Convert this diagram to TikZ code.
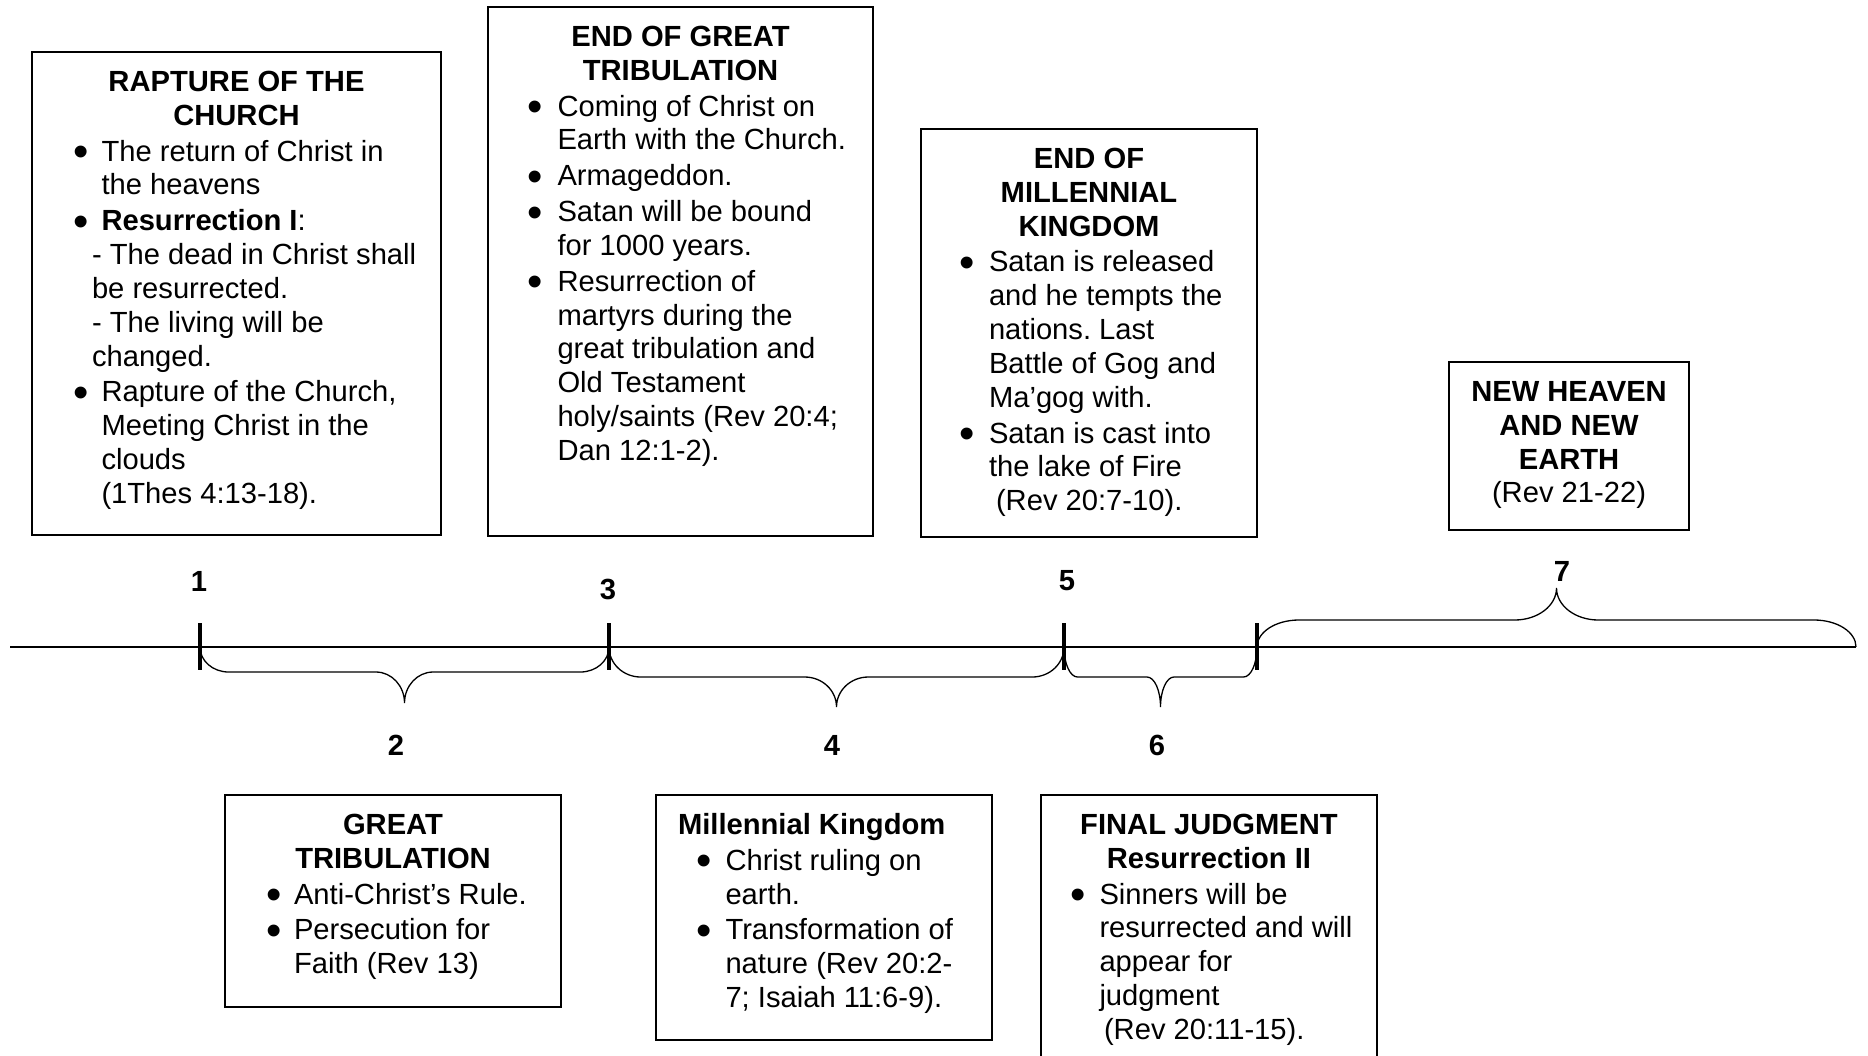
\documentclass[tikz,border=0pt]{standalone}
\usepackage{graphicx}
\usepackage{fontspec}
\setmainfont{Liberation Sans}
\usetikzlibrary{calc}
\frenchspacing

\newlength\px
\setlength\px{0.02cm}
\newcommand\mybullet{\raisebox{-5.6\px}{\scalebox{1.5}{\textbullet}}}
% bullet line: #1 bullet centre, #2 text indent (px from the box edge)
\newcommand\bitem[3]{\par\vspace{2\px}\leftskip=#2\px\noindent\llap{\mybullet\hspace*{\dimexpr#2\px-#1\px-7.7\px\relax}}#3\par}
\newcommand\sitem[2]{\par\leftskip=#1\px\noindent #2\par}
\newcommand\heading[1]{{\centering\bfseries\strut #1\par}}

\begin{document}
\begin{tikzpicture}[x=0.02cm,y=-0.02cm,
  every node/.style={font=\fontsize{16.6}{19.25}\selectfont},
  panel/.style={draw,line width=0.04cm,inner xsep=0pt,inner ysep=0.316cm,outer sep=0pt,anchor=north west},
  num/.style={font=\fontsize{16.6}{19.25}\selectfont\bfseries},
  timeline/.style={line width=0.036cm},
  tick/.style={line width=0.09cm},
  span/.style={line width=0.026cm},
  period/.style n args={3}{to path={
    .. controls ($(\tikztostart)+(0,{0.55*(#1)})$) and ($(\tikztostart)!0.031!(\tikztotarget)+(0,#1)$)
    .. ($(\tikztostart)!0.07!(\tikztotarget)+(0,#1)$)
    -- ($(\tikztostart)!0.43!(\tikztotarget)+(0,#1)$)
    .. controls ($(\tikztostart)!0.469!(\tikztotarget)+(0,#1)$) and ($(\tikztostart)!0.5!(\tikztotarget)+(0,#2)$)
    .. ($(\tikztostart)!0.5!(\tikztotarget)+(0,#3)$)
    .. controls ($(\tikztostart)!0.5!(\tikztotarget)+(0,#2)$) and ($(\tikztostart)!0.531!(\tikztotarget)+(0,#1)$)
    .. ($(\tikztostart)!0.57!(\tikztotarget)+(0,#1)$)
    -- ($(\tikztostart)!0.93!(\tikztotarget)+(0,#1)$)
    .. controls ($(\tikztostart)!0.969!(\tikztotarget)+(0,#1)$) and ($(\tikztotarget)+(0,{0.55*(#1)})$)
    .. (\tikztotarget)}}]

\useasboundingbox (0,0) rectangle (1868,1055);

% events above the line
\node[panel] (rapture) at (32,52) {\parbox[t][451\px][t]{409\px}{%
  \heading{RAPTURE OF THE\\CHURCH}
  \bitem{49}{69.5}{The return of Christ in\\the heavens}
  \bitem{49}{69.5}{\textbf{Resurrection I}:}
  \sitem{60}{- The dead in Christ shall\\be resurrected.}
  \sitem{60}{- The living will be\\changed.}
  \bitem{49}{69.5}{Rapture of the Church,\\Meeting Christ in the\\clouds\\(1Thes 4:13-18).}}};

\node[panel] (tribend) at (488,7) {\parbox[t][497\px][t]{385\px}{%
  \heading{END OF GREAT\\TRIBULATION}
  \bitem{47}{69.5}{Coming of Christ on\\Earth with the Church.}
  \bitem{47}{69.5}{Armageddon.}
  \bitem{47}{69.5}{Satan will be bound\\for 1000 years.}
  \bitem{47}{69.5}{Resurrection of\\martyrs during the\\great tribulation and\\Old Testament\\holy/saints (Rev 20:4;\\Dan 12:1-2).}}};

\node[panel] (millend) at (921,129) {\parbox[t][376\px][t]{336\px}{%
  \heading{END OF\\MILLENNIAL\\KINGDOM}
  \bitem{46}{68}{Satan is released\\and he tempts the\\nations. Last\\Battle of Gog and\\Ma’gog with.}
  \bitem{46}{68}{Satan is cast into\\the lake of Fire\\\hspace*{7\px}(Rev 20:7-10).}}};

\node[panel] (newearth) at (1449,362) {\parbox[t][136\px][t]{240\px}{%
  \heading{NEW HEAVEN\\AND NEW\\EARTH}
  {\centering (Rev 21-22)\par}}};

% periods below the line
\node[panel] (tribulation) at (225,795) {\parbox[t][180\px][t]{336\px}{%
  \heading{GREAT\\TRIBULATION}
  \bitem{49}{69}{Anti-Christ’s Rule.}
  \bitem{49}{69}{Persecution for\\Faith (Rev 13)}}};

\node[panel] (millennium) at (656,795) {\parbox[t][213\px][t]{336\px}{%
  \sitem{22}{\strut\textbf{Millennial Kingdom}}
  \bitem{48}{69.5}{Christ ruling on\\earth.}
  \bitem{48}{69.5}{Transformation of\\nature (Rev 20:2-\\7; Isaiah 11:6-9).}}};

\node[panel] (judgment) at (1041,795) {\parbox[t][270\px][t]{336\px}{%
  \heading{FINAL JUDGMENT\\Resurrection II}
  \bitem{37}{58.5}{Sinners will be\\resurrected and will\\appear for\\judgment\\\hspace*{4.5\px}(Rev 20:11-15).}}};

% time line
\coordinate (lstart) at (10,647);
\coordinate (lend) at (1856,647);
\coordinate (t1) at (200,647);
\coordinate (t3) at (609,647);
\coordinate (t5) at (1064,647);
\coordinate (t6) at (1257,647);
\draw[timeline] (lstart) -- (lend);
\foreach \t in {t1,t3,t5,t6}
  \draw[tick] ($(\t)+(0,-24)$) -- ($(\t)+(0,23)$);

\draw[span] (t1) to[period={25}{39}{56}] (t3);
\draw[span] (t3) to[period={30}{43.5}{60}] (t5);
\draw[span] (t5) to[period={30}{43.5}{60}] (t6);
\draw[span] (t6) to[period={-27}{-41.4}{-59}] (lend);

\node[num] (n1) at (199,581) {1};
\node[num] (n2) at (396,745) {2};
\node[num] (n3) at (608,589) {3};
\node[num] (n4) at (832,745) {4};
\node[num] (n5) at (1067,581) {5};
\node[num] (n6) at (1157,745) {6};
\node[num] (n7) at (1562,571) {7};
\end{tikzpicture}
\end{document}
